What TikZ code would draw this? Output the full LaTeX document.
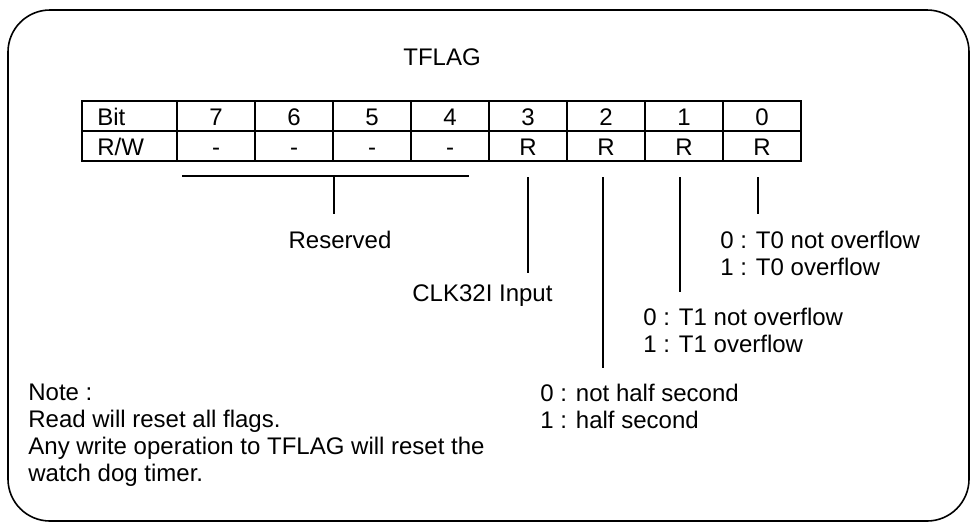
\documentclass[tikz,border=0pt]{standalone}
\usepackage{fontspec}
\setmainfont{Liberation Sans}
\usepackage{tikz}
\usetikzlibrary{calc}

\begin{document}
\begin{tikzpicture}[x=0.5pt, y=-0.5pt,
		every node/.style={font=\fontsize{12}{13.5}\selectfont, inner sep=0pt},
		cell/.style={text height=8.6pt, text depth=0pt},
		lbl/.style={anchor=north west, align=left},
		tick/.style={line width=1pt}]
			%%%%% START %%%%%
			\useasboundingbox (0,0) rectangle (977,525);
			
			\draw[line width=0.8pt, rounded corners=21pt] (8,10) rectangle (969,521);
			
			\node (title) at (442,57) {TFLAG};
			
			% register table
			\draw[line width=1pt] (82,101) rectangle (801,161);
			\draw[line width=1pt] (82,131) -- (801,131);
			\foreach \x in {177,255,...,723}
				\draw[line width=1pt] (\x,101) -- (\x,161);
			
			\node[cell, anchor=west] (bit) at (97,117) {Bit};
			\node[cell, anchor=west] (rw) at (97,147) {R/W};
			\foreach \b/\a [count=\i from 0] in {7/-,6/-,5/-,4/-,3/R,2/R,1/R,0/R} {
				\node[cell] (n\b) at (216+78*\i,117) {\b};
				\node[cell] (a\b) at (216+78*\i,147) {\a};
			}
			
			% reserved bits 7..4
			\coordinate (resL) at (182,176);
			\coordinate (resR) at (469,176);
			\coordinate (resM) at (334,176);
			\coordinate (resE) at (334,214);
			\draw[tick] (resL) -- (resR);
			\draw[tick] (resM) -- (resE);
			\node (reserved) at (340,240) {Reserved};
			
			% bit 3
			\coordinate (b3) at (528,177);
			\coordinate (b3e) at (528,273);
			\draw[tick] (b3) -- (b3e);
			\node[anchor=west] (clk) at (412,296) {CLK32I Input};
			
			% bit 2
			\coordinate (b2) at (603,177);
			\coordinate (b2e) at (603,368);
			\draw[tick] (b2) -- (b2e);
			\node[lbl] (half) at (540,384) {0 : not half second\\1 : half second};
			
			% bit 1
			\coordinate (b1) at (680,177);
			\coordinate (b1e) at (680,292);
			\draw[tick] (b1) -- (b1e);
			\node[lbl] (tone) at (643,308) {0 : T1 not overflow\\1 : T1 overflow};
			
			% bit 0
			\coordinate (b0) at (758,177);
			\coordinate (b0e) at (758,214);
			\draw[tick] (b0) -- (b0e);
			\node[lbl] (tzero) at (720,231) {0 : T0 not overflow\\1 : T0 overflow};
			
			% note
			\node[lbl] (note) at (28,384) {Note :\\Read will reset all flags.\\Any write operation to TFLAG will reset the\\watch dog timer.};
			%%%%% END %%%%%
\end{tikzpicture}
\end{document}
